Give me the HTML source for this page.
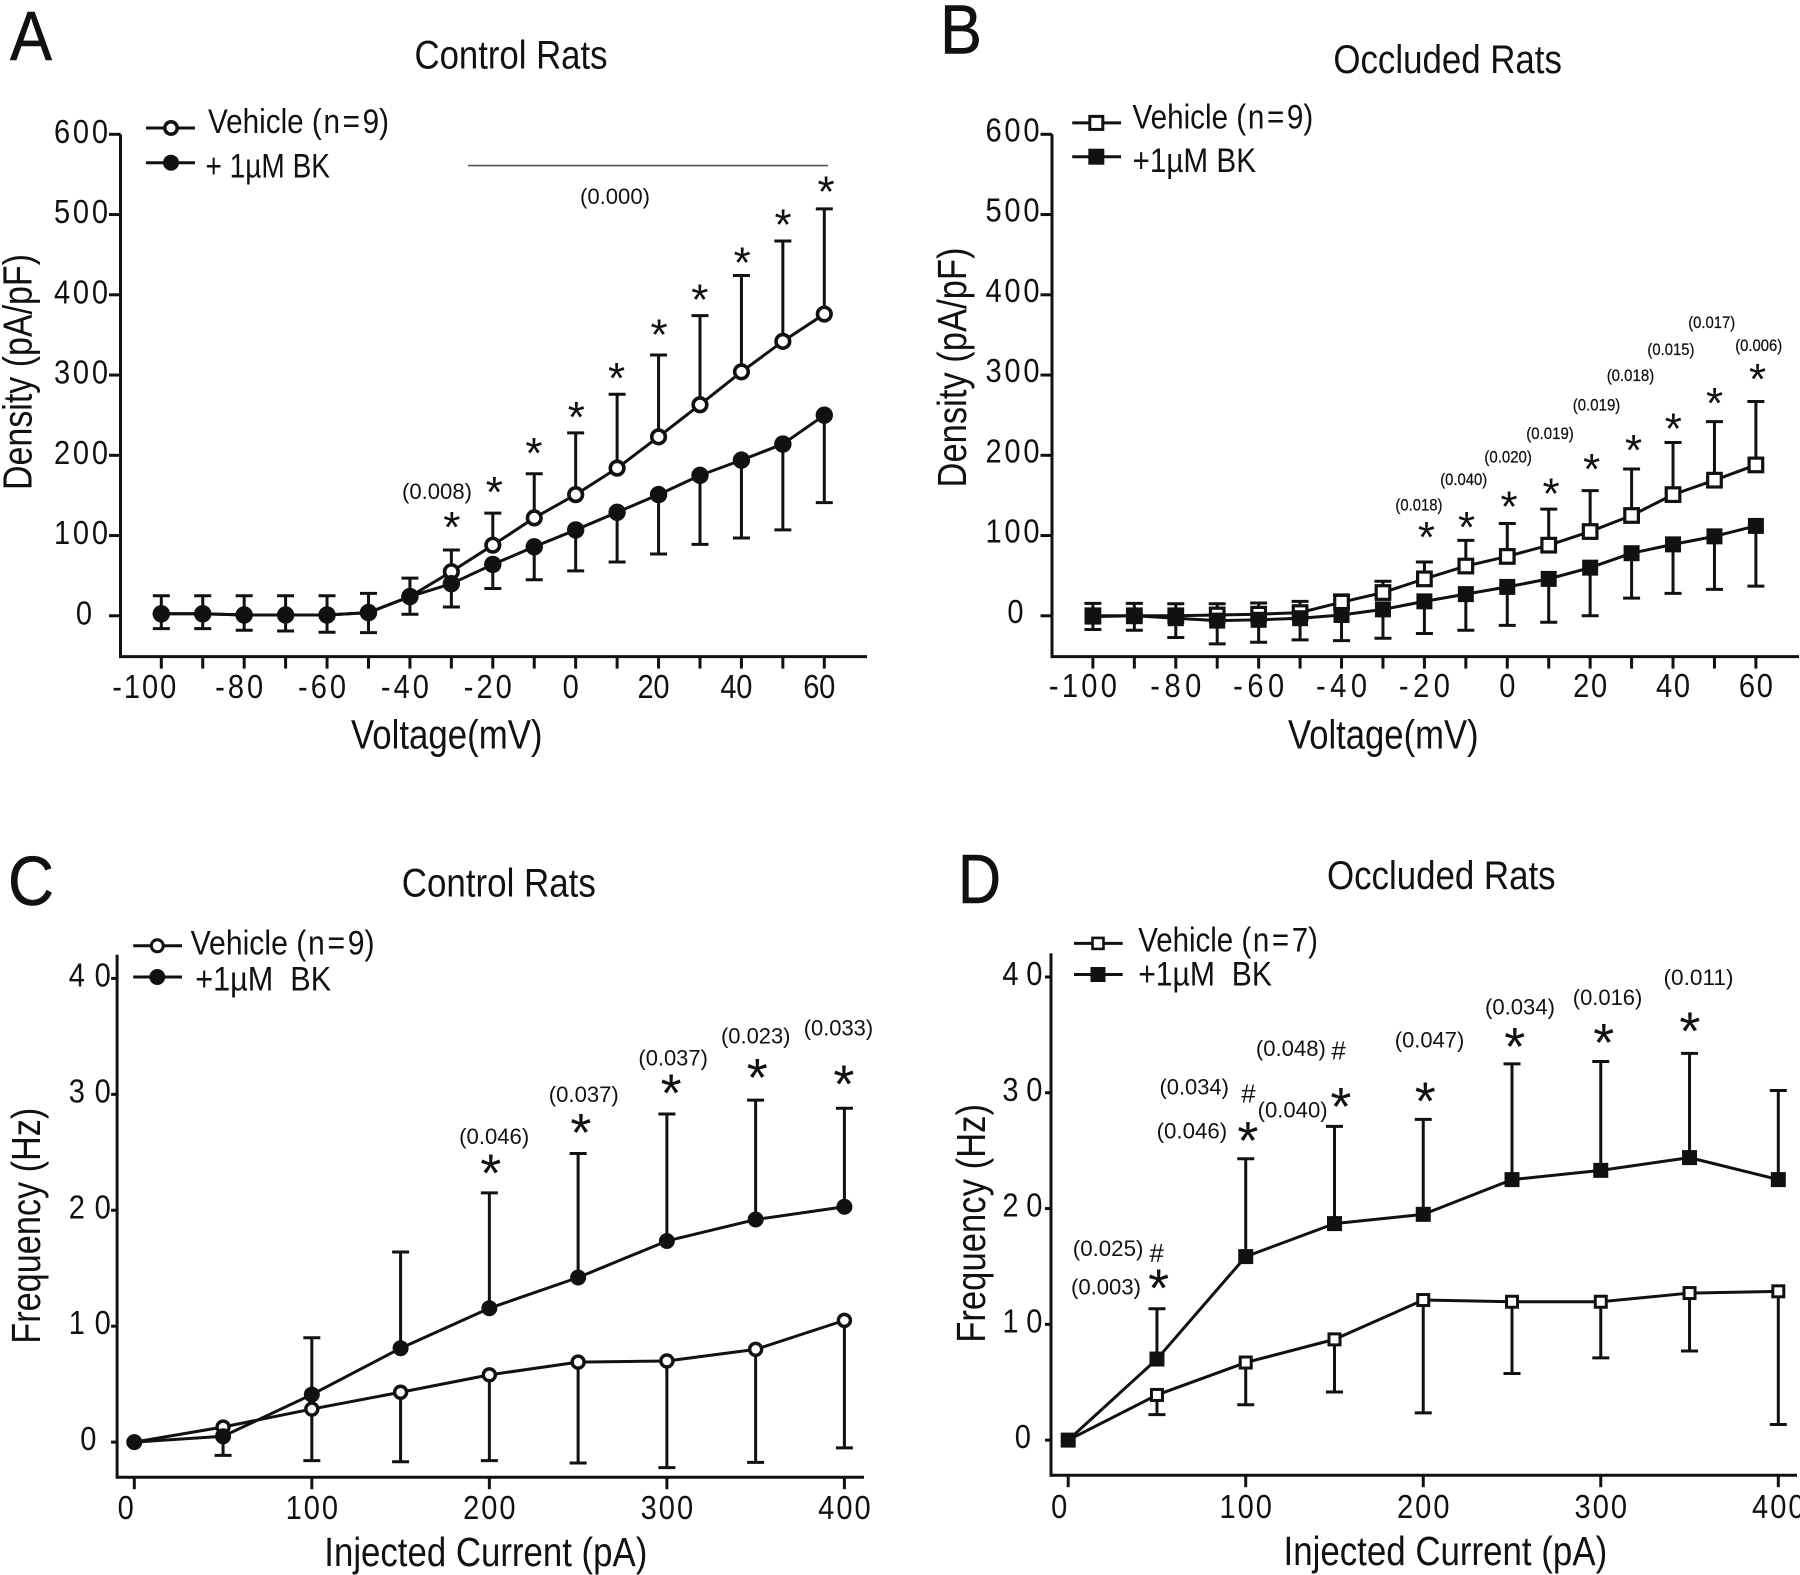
<!DOCTYPE html>
<html lang="en">
<head>
<meta charset="utf-8">
<title>Density and Frequency Charts</title>
<style>
html,body{margin:0;padding:0;background:#fff;}
svg{display:block;}
text{font-family:"Liberation Sans",sans-serif;fill:#111;}
.big{font-size:70px;stroke:#111;stroke-width:.6px;}
.title{font-size:40px;}
.axt{font-size:41px;}
.leg{font-size:34px;}
.p{font-size:22px;}
.ps{font-size:17px;stroke:#111;stroke-width:.25px;}
.s{font-size:44px;text-anchor:middle;transform:translateY(-7.5px);}
.sl{font-size:54px;text-anchor:middle;transform:translateY(-8px);}
.h{font-size:26px;text-anchor:middle;}
.ll{stroke:#111;stroke-width:3;fill:none;}
</style>
</head>
<body>
<svg id="figure" xmlns="http://www.w3.org/2000/svg" width="1800" height="1575" viewBox="0 0 1800 1575">
<rect x="0" y="0" width="1800" height="1575" fill="#fff"/>

<!-- Panel A static text -->
<g>
<text class="big" x="10" y="60" textLength="42" lengthAdjust="spacingAndGlyphs">A</text>
<text class="title" x="414.5" y="68.6" textLength="193" lengthAdjust="spacingAndGlyphs">Control Rats</text>
<text class="axt" transform="translate(31.6 490) rotate(-90)" textLength="236" lengthAdjust="spacingAndGlyphs">Density (pA/pF)</text>
<text class="axt" x="351" y="748.6" textLength="191.5" lengthAdjust="spacingAndGlyphs">Voltage(mV)</text>
<line x1="146" y1="128" x2="195" y2="128" class="ll"/>
<circle cx="171" cy="128" r="6.2" fill="#fff" stroke="#111" stroke-width="3.5"/>
<text class="leg" x="208" y="133" textLength="181" lengthAdjust="spacingAndGlyphs">Vehicle (<tspan dx="2">n</tspan><tspan dx="3">=</tspan><tspan dx="3">9</tspan>)</text>
<line x1="146" y1="162.7" x2="195" y2="162.7" class="ll"/>
<circle cx="171" cy="162.7" r="8" fill="#111"/>
<text class="leg" x="205.5" y="177.6" textLength="124.5" lengthAdjust="spacingAndGlyphs">+ 1µM BK</text>
<line x1="468" y1="165.6" x2="828" y2="165.6" stroke="#555" stroke-width="1.6"/>
<text class="p" x="580" y="204" textLength="70" lengthAdjust="spacingAndGlyphs">(0.000)</text>
<text class="p" x="402" y="499" textLength="70" lengthAdjust="spacingAndGlyphs">(0.008)</text>
<text class="s" x="451.8" y="549.4">*</text>
<text class="s" x="494.3" y="514.5">*</text>
<text class="s" x="533.9" y="475.3">*</text>
<text class="s" x="576.3" y="439.4">*</text>
<text class="s" x="616.5" y="400.6">*</text>
<text class="s" x="659" y="356.9">*</text>
<text class="s" x="699.8" y="322">*</text>
<text class="s" x="742.2" y="285.2">*</text>
<text class="s" x="783" y="246.9">*</text>
<text class="s" x="826" y="214.1">*</text>
</g>

<!-- Panel B static text -->
<g>
<text class="big" x="940" y="53.7" textLength="42" lengthAdjust="spacingAndGlyphs">B</text>
<text class="title" x="1333.4" y="73" textLength="228.5" lengthAdjust="spacingAndGlyphs">Occluded Rats</text>
<text class="axt" transform="translate(966 487.5) rotate(-90)" textLength="240" lengthAdjust="spacingAndGlyphs">Density (pA/pF)</text>
<text class="axt" x="1288" y="748.6" textLength="190.6" lengthAdjust="spacingAndGlyphs">Voltage(mV)</text>
<line x1="1072.2" y1="122.9" x2="1121" y2="122.9" class="ll"/>
<rect x="1089.8" y="116.4" width="13" height="13" fill="#fff" stroke="#111" stroke-width="3"/>
<text class="leg" x="1132.5" y="128.4" textLength="180.8" lengthAdjust="spacingAndGlyphs">Vehicle (<tspan dx="2">n</tspan><tspan dx="3">=</tspan><tspan dx="3">9</tspan>)</text>
<line x1="1072.2" y1="156.7" x2="1121" y2="156.7" class="ll"/>
<rect x="1088.3" y="148.7" width="16" height="16" fill="#111"/>
<text class="leg" x="1132.5" y="172" textLength="123.5" lengthAdjust="spacingAndGlyphs">+1µM BK</text>
<text class="ps" x="1395.4" y="510.4" textLength="47" lengthAdjust="spacingAndGlyphs">(0.018)</text>
<text class="ps" x="1440.2" y="485" textLength="47" lengthAdjust="spacingAndGlyphs">(0.040)</text>
<text class="ps" x="1484.4" y="462.7" textLength="47.5" lengthAdjust="spacingAndGlyphs">(0.020)</text>
<text class="ps" x="1526.3" y="438.8" textLength="47.5" lengthAdjust="spacingAndGlyphs">(0.019)</text>
<text class="ps" x="1572.8" y="410.4" textLength="47.5" lengthAdjust="spacingAndGlyphs">(0.019)</text>
<text class="ps" x="1606.7" y="381" textLength="47.5" lengthAdjust="spacingAndGlyphs">(0.018)</text>
<text class="ps" x="1647.4" y="355.2" textLength="47" lengthAdjust="spacingAndGlyphs">(0.015)</text>
<text class="ps" x="1688.2" y="327.9" textLength="47" lengthAdjust="spacingAndGlyphs">(0.017)</text>
<text class="ps" x="1735.2" y="351.2" textLength="47" lengthAdjust="spacingAndGlyphs">(0.006)</text>
<text class="s" x="1426.4" y="559.3">*</text>
<text class="s" x="1466.6" y="549.4">*</text>
<text class="s" x="1509.1" y="529">*</text>
<text class="s" x="1551" y="516.1">*</text>
<text class="s" x="1591.7" y="491.7">*</text>
<text class="s" x="1633.6" y="472.3">*</text>
<text class="s" x="1673.3" y="450.9">*</text>
<text class="s" x="1714.6" y="425.5">*</text>
<text class="s" x="1757.6" y="401.6">*</text>
</g>

<!-- Panel C static text -->
<g>
<text class="big" x="8" y="904.8" textLength="46" lengthAdjust="spacingAndGlyphs">C</text>
<text class="title" x="401.8" y="896.4" textLength="194" lengthAdjust="spacingAndGlyphs">Control Rats</text>
<text class="axt" transform="translate(40 1343.7) rotate(-90)" textLength="236" lengthAdjust="spacingAndGlyphs">Frequency (Hz)</text>
<text class="axt" x="324.3" y="1566.2" textLength="323" lengthAdjust="spacingAndGlyphs">Injected Current (pA)</text>
<line x1="133.2" y1="945.8" x2="182" y2="945.8" class="ll"/>
<circle cx="157.3" cy="945.8" r="6" fill="#fff" stroke="#111" stroke-width="3"/>
<text class="leg" x="190.6" y="954.7" textLength="184" lengthAdjust="spacingAndGlyphs">Vehicle (<tspan dx="2">n</tspan><tspan dx="3">=</tspan><tspan dx="3">9</tspan>)</text>
<line x1="133.2" y1="977" x2="182" y2="977" class="ll"/>
<circle cx="157.3" cy="977" r="8" fill="#111"/>
<text class="leg" x="195.2" y="990.3" textLength="136" lengthAdjust="spacingAndGlyphs" xml:space="preserve">+1µM  BK</text>
<text class="p" x="459.2" y="1144" textLength="70" lengthAdjust="spacingAndGlyphs">(0.046)</text>
<text class="p" x="548.8" y="1102" textLength="70" lengthAdjust="spacingAndGlyphs">(0.037)</text>
<text class="p" x="638.4" y="1065.4" textLength="69.5" lengthAdjust="spacingAndGlyphs">(0.037)</text>
<text class="p" x="721" y="1043.7" textLength="69.5" lengthAdjust="spacingAndGlyphs">(0.023)</text>
<text class="p" x="803.7" y="1035.3" textLength="69.5" lengthAdjust="spacingAndGlyphs">(0.033)</text>
<text class="sl" x="490.8" y="1199.3">*</text>
<text class="sl" x="580.9" y="1158.8">*</text>
<text class="sl" x="671.1" y="1119.7">*</text>
<text class="sl" x="757.2" y="1103.9">*</text>
<text class="sl" x="843.9" y="1110.3">*</text>
</g>

<!-- Panel D static text -->
<g>
<text class="big" x="958" y="902.8" textLength="43" lengthAdjust="spacingAndGlyphs">D</text>
<text class="title" x="1327" y="889" textLength="228.6" lengthAdjust="spacingAndGlyphs">Occluded Rats</text>
<text class="axt" transform="translate(985 1342.8) rotate(-90)" textLength="238.8" lengthAdjust="spacingAndGlyphs">Frequency (Hz)</text>
<text class="axt" x="1283.5" y="1565.2" textLength="323.7" lengthAdjust="spacingAndGlyphs">Injected Current (pA)</text>
<line x1="1074" y1="943.4" x2="1122.7" y2="943.4" class="ll"/>
<rect x="1092.5" y="937.9" width="11" height="11" fill="#fff" stroke="#111" stroke-width="2.6"/>
<text class="leg" x="1138.2" y="951.3" textLength="179.7" lengthAdjust="spacingAndGlyphs">Vehicle (<tspan dx="2">n</tspan><tspan dx="3">=</tspan><tspan dx="3">7</tspan>)</text>
<line x1="1074" y1="974.5" x2="1122.7" y2="974.5" class="ll"/>
<rect x="1090.5" y="967" width="15" height="15" fill="#111"/>
<text class="leg" x="1138.2" y="985.4" textLength="133.8" lengthAdjust="spacingAndGlyphs" xml:space="preserve">+1µM  BK</text>
<text class="p" x="1072.8" y="1255.8" textLength="70.6" lengthAdjust="spacingAndGlyphs">(0.025)</text>
<text class="h" x="1156.6" y="1262.2">#</text>
<text class="p" x="1071" y="1294.3" textLength="70" lengthAdjust="spacingAndGlyphs">(0.003)</text>
<text class="sl" x="1158.6" y="1314.5">*</text>
<text class="p" x="1159.5" y="1094.6" textLength="69.4" lengthAdjust="spacingAndGlyphs">(0.034)</text>
<text class="h" x="1248.5" y="1102.5">#</text>
<text class="p" x="1156.6" y="1138.6" textLength="70.6" lengthAdjust="spacingAndGlyphs">(0.046)</text>
<text class="sl" x="1247.9" y="1167.2">*</text>
<text class="p" x="1255.9" y="1056" textLength="70" lengthAdjust="spacingAndGlyphs">(0.048)</text>
<text class="h" x="1338.6" y="1059.5">#</text>
<text class="p" x="1257.6" y="1117.4" textLength="70" lengthAdjust="spacingAndGlyphs">(0.040)</text>
<text class="sl" x="1340.9" y="1133">*</text>
<text class="p" x="1394.8" y="1047.7" textLength="69.5" lengthAdjust="spacingAndGlyphs">(0.047)</text>
<text class="sl" x="1425.3" y="1127.6">*</text>
<text class="p" x="1485" y="1014.5" textLength="70" lengthAdjust="spacingAndGlyphs">(0.034)</text>
<text class="sl" x="1514.8" y="1073.2">*</text>
<text class="p" x="1572.8" y="1005.1" textLength="69.5" lengthAdjust="spacingAndGlyphs">(0.016)</text>
<text class="sl" x="1603.8" y="1068.8">*</text>
<text class="p" x="1663.5" y="984.9" textLength="70" lengthAdjust="spacingAndGlyphs">(0.011)</text>
<text class="sl" x="1689.9" y="1057.4">*</text>
</g>
</svg>

<script>
// ---- Categories and tick labels ----
const voltageCategories = [-100,-90,-80,-70,-60,-50,-40,-30,-20,-10,0,10,20,30,40,50,60];
const currentCategories = [0,50,100,150,200,250,300,350,400];
const voltageTickLabels = [-100,-80,-60,-40,-20,0,20,40,60];
const currentTickLabels = [0,100,200,300,400];
const densityTickLabels = [0,100,200,300,400,500,600];
const frequencyTickLabels = [0,10,20,30,40];

// ---- Panel A: Control rats, current density ----
const aVehicle = [2.5,2.5,1,1,1,4,24,55,88,122,151,184,223,263,304,342,376];
const aBk = [2.5,2.5,1,1,1,4,24,40,64,86,107,129,151,175,194,214,250];
const aVehicleUpper = [25,25,25,25,25,28,47,82,128,177,228,276,325,374,424,467,507];
const aBkLower = [-16,-16,-18,-19,-20.5,-21,2,11,34,45,56,67,77,89,97,107,141];

// ---- Panel B: Occluded rats, current density ----
const bVehicle = [0,0,0,1,2,4,17,29,46,62,74,88,105,125,151,169,188];
const bBk = [-1,0,-3,-6,-5,-3,1,8,18,27,36,46,60,78,89,99,112];
const bVehicleUpper = [15.5,15.5,15,15,16,18,26,43,67,94,115,133,156,183,216,242,267];
const bBkLower = [-17,-18,-27,-35,-33,-30,-31,-28,-22,-18,-12,-8,0,22,28,33,37];

// ---- Panel C: Control rats, firing frequency ----
const cVehicle = [0,1.3,2.85,4.3,5.8,6.9,7,8,10.5];
const cBk = [0,0.5,4.1,8.1,11.55,14.2,17.35,19.2,20.3];
const cBkUpper = [null,null,9,16.4,21.5,24.9,28.3,29.5,28.8];
const cBkLower = [null,-1.15,null,null,null,null,null,null,null];
const cVehicleLower = [null,null,-1.6,-1.7,-1.6,-1.8,-2.2,-1.75,-0.5];

// ---- Panel D: Occluded rats, firing frequency ----
const dVehicle = [0,3.9,6.7,8.7,12.1,11.95,11.95,12.7,12.85];
const dBk = [0,7,15.85,18.7,19.5,22.5,23.3,24.4,22.5];
const dBkUpper = [null,11.35,24.3,27.1,27.7,32.5,32.7,33.4,30.2];
const dVehicleLower = [null,2.2,3.05,4.15,2.35,5.75,7.1,7.7,1.35];

const INK = '#111';
const NS = 'http://www.w3.org/2000/svg';
const figure = document.getElementById('figure');
const TICK_SQUEEZE = 0.88;

function make(tag, parent, attrs, content) {
  const el = document.createElementNS(NS, tag);
  for (const key in attrs) el.setAttribute(key, attrs[key]);
  if (content !== undefined) el.textContent = content;
  parent.appendChild(el);
  return el;
}

function tickText(parent, str, x, y, anchor, width) {
  return make('text', parent, {
    transform: 'translate(' + x + ' ' + y + ') scale(' + TICK_SQUEEZE + ' 1)',
    'text-anchor': anchor, 'font-size': 33,
    textLength: width / TICK_SQUEEZE, lengthAdjust: 'spacing'
  }, str);
}

function drawPanel(p) {
  const scaleX = v => p.px0 + (v - p.xMin) / (p.xMax - p.xMin) * (p.px1 - p.px0);
  const scaleY = v => p.py0 + v / p.yMax * (p.pyTop - p.py0);

  const root = make('g', figure, {});
  
  

  // axes
  const yAxis = make('line', root, {x1: p.axisX, y1: p.axisTop, x2: p.axisX, y2: p.axisBottom + 1.5, stroke: INK, 'stroke-width': 3});
  
  
  const xAxis = make('line', root, {x1: p.axisX, y1: p.axisBottom, x2: p.axisRight, y2: p.axisBottom, stroke: INK, 'stroke-width': 3});
  
  

  // y ticks and labels
  p.yLabels.forEach(v => {
    const y = scaleY(v);
    const tick = make('line', root, {x1: p.axisX - p.yTickLen, y1: y, x2: p.axisX, y2: y, stroke: INK, 'stroke-width': 3});
    
    
    const s = String(v);
    const isZero = v === 0;
    const label = tickText(root, s, p.yLabelRight + (isZero ? p.yZeroDx : 0), y + p.yBase + 1, 'end', isZero ? 14 : s.length * p.yDigit);
    
    
  });

  // x ticks
  p.xTicks.forEach(v => {
    const x = scaleX(v);
    const tick = make('line', root, {x1: x, y1: p.axisBottom, x2: x, y2: p.axisBottom + 12, stroke: INK, 'stroke-width': 3});
    
    
  });

  // x labels
  p.xLabels.forEach((v, i) => {
    const s = String(v);
    const label = tickText(root, s, scaleX(v) + (i === 0 ? p.xFirstDx : p.xDx), p.xBase - 1, 'middle', s === '0' ? 14 : s.length * p.xDigit);
    
    
  });

  // error bars
  p.errors.forEach(err => {
    err.ends.forEach((end, i) => {
      if (end === null) return;
      const x = scaleX(p.xs[i]);
      const bar = make('path', root, {
        d: 'M' + x + ' ' + scaleY(err.means[i]) + 'V' + scaleY(end) + 'M' + (x - 8.5) + ' ' + scaleY(end) + 'H' + (x + 8.5),
        stroke: INK, 'stroke-width': 3, fill: 'none'
      });
      
      
    });
  });

  // lines and markers
  [{name: 'vehicle', values: p.vehicle}, {name: 'bk', values: p.bk}].forEach(series => {
    const line = make('polyline', root, {
      points: series.values.map((v, i) => scaleX(p.xs[i]) + ',' + scaleY(v)).join(' '),
      fill: 'none', stroke: INK, 'stroke-width': 3, 'stroke-linejoin': 'round'
    });
    
    
  });
  [{name: 'vehicle', values: p.vehicle, open: true}, {name: 'bk', values: p.bk, open: false}].forEach(series => {
    series.values.forEach((v, i) => {
      const cx = scaleX(p.xs[i]);
      const cy = scaleY(v);
      const r = series.open ? p.openR : p.solidR;
      const attrs = series.open ? {fill: '#fff', stroke: INK, 'stroke-width': p.openStroke} : {fill: INK};
      let mark;
      if (p.shape === 'circle') {
        mark = make('circle', root, Object.assign({cx: cx, cy: cy, r: r}, attrs));
      } else {
        mark = make('rect', root, Object.assign({x: cx - r, y: cy - r, width: 2 * r, height: 2 * r}, attrs));
      }
      
      
    });
  });
}

drawPanel({
  id: 'a', xs: voltageCategories, vehicle: aVehicle, bk: aBk,
  errors: [{means: aVehicle, ends: aVehicleUpper}, {means: aBk, ends: aBkLower}],
  xMin: -100, xMax: 60, px0: 161.3, px1: 824.3, yMax: 600, py0: 615.8, pyTop: 134.3,
  axisX: 120.5, axisTop: 134.3, axisBottom: 656.6, axisRight: 867, yTickLen: 11.5,
  yLabels: densityTickLabels, yLabelRight: 108, yDigit: 18, yZeroDx: -16, yBase: 7.5,
  xTicks: voltageCategories, xLabels: voltageTickLabels, xBase: 699, xDigit: 16, xDx: -5, xFirstDx: -17,
  shape: 'circle', openR: 6.8, openStroke: 3.6, solidR: 8.7
});
drawPanel({
  id: 'b', xs: voltageCategories, vehicle: bVehicle, bk: bBk,
  errors: [{means: bVehicle, ends: bVehicleUpper}, {means: bBk, ends: bBkLower}],
  xMin: -100, xMax: 60, px0: 1092.9, px1: 1755.9, yMax: 600, py0: 615.8, pyTop: 134.3,
  axisX: 1052, axisTop: 134.3, axisBottom: 656.6, axisRight: 1799, yTickLen: 11.5,
  yLabels: densityTickLabels, yLabelRight: 1039.5, yDigit: 18, yZeroDx: -16, yBase: 6,
  xTicks: voltageCategories, xLabels: voltageTickLabels, xBase: 698, xDigit: 17, xDx: 0, xFirstDx: -10,
  shape: 'square', openR: 6.8, openStroke: 3.2, solidR: 8
});
drawPanel({
  id: 'c', xs: currentCategories, vehicle: cVehicle, bk: cBk,
  errors: [{means: cBk, ends: cBkUpper}, {means: cBk, ends: cBkLower}, {means: cVehicle, ends: cVehicleLower}],
  xMin: 0, xMax: 400, px0: 134.3, px1: 844.4, yMax: 40, py0: 1442.1, pyTop: 978.4,
  axisX: 117.1, axisTop: 954.7, axisBottom: 1477.2, axisRight: 864, yTickLen: 6,
  yLabels: frequencyTickLabels, yLabelRight: 110.8, yDigit: 21, yZeroDx: -14.4, yBase: 7,
  xTicks: currentTickLabels, xLabels: currentTickLabels, xBase: 1520.2, xDigit: 17.5, xDx: 0, xFirstDx: -8.6,
  shape: 'circle', openR: 6, openStroke: 3.4, solidR: 8
});
drawPanel({
  id: 'd', xs: currentCategories, vehicle: dVehicle, bk: dBk,
  errors: [{means: dBk, ends: dBkUpper}, {means: dVehicle, ends: dVehicleLower}],
  xMin: 0, xMax: 400, px0: 1068.2, px1: 1778.3, yMax: 40, py0: 1440.1, pyTop: 977,
  axisX: 1051, axisTop: 953.2, axisBottom: 1475.2, axisRight: 1797, yTickLen: 6,
  yLabels: frequencyTickLabels, yLabelRight: 1042.4, yDigit: 20, yZeroDx: -11.5, yBase: 7,
  xTicks: currentTickLabels, xLabels: currentTickLabels, xBase: 1519.2, xDigit: 17.5, xDx: 0, xFirstDx: -9,
  shape: 'square', openR: 5.5, openStroke: 3, solidR: 7.5
});
</script>
</body>
</html>
